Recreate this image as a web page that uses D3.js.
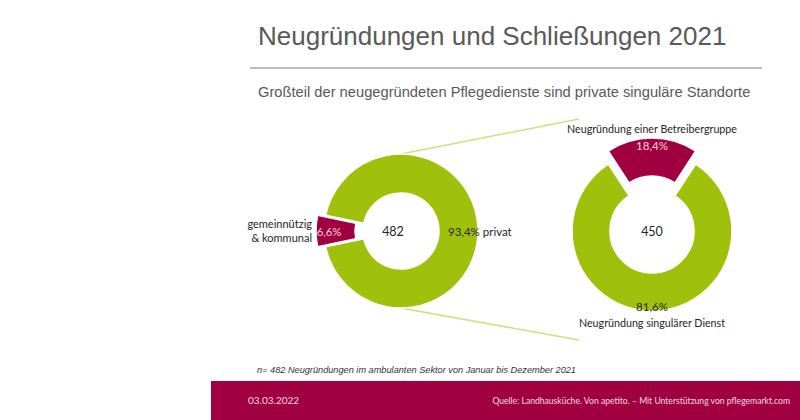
<!DOCTYPE html>
<html lang="de">
<head>
<meta charset="UTF-8">
<title>Neugründungen und Schließungen 2021</title>
<script src="https://d3js.org/d3.v7.min.js"></script>
<style>
  body { margin: 0; background: #fff; }
  .title { font-family: "Liberation Sans", Arial, sans-serif; fill: #595959; }
  .lbl { font-family: Lato, "Open Sans", sans-serif; fill: #262626; }
</style>
</head>
<body>
<svg width="800" height="420"></svg>
<script>
// data
const leftCategories = ["gemeinnützig & kommunal", "privat"];
const leftValues = [6.6, 93.4];
const leftTotal = 482;
const rightCategories = ["Neugründung einer Betreibergruppe", "Neugründung singulärer Dienst"];
const rightValues = [18.4, 81.6];
const rightTotal = 450;
const colors = ["#a00040", "#a0c10c"];

const svg = d3.select("svg");
const fmt = v => d3.format(".1f")(v).replace(".", ",") + "%";

// header
svg.append("text").attr("class", "title")
    .attr("x", 258).attr("y", 45)
    .style("font-size", "26px")
    .text("Neugründungen und Schließungen 2021");
svg.append("line")
    .attr("x1", 250).attr("x2", 762).attr("y1", 68).attr("y2", 68)
    .attr("stroke", "#a6a6a6").attr("stroke-width", 1.5);
svg.append("text").attr("class", "title")
    .attr("x", 258).attr("y", 97)
    .style("font-size", "14.7px")
    .text("Großteil der neugegründeten Pflegedienste sind private singuläre Standorte");

// donut helper: first slice (red) centred at angle `mid`, exploded by `explode`
function donut(cx, cy, rOut, rIn, values, mid, explode) {
    const half = Math.PI * 2 * values[0] / d3.sum(values) / 2;
    const pie = d3.pie().sort(null).value(d => d)
        .startAngle(mid - half).endAngle(mid - half + Math.PI * 2);
    const arc = d3.arc().innerRadius(rIn).outerRadius(rOut);
    const arcs = pie(values);
    const g = svg.append("g").attr("transform", `translate(${cx},${cy})`);
    g.selectAll("path").data(arcs).join("path")
        .attr("d", arc)
        .attr("fill", (d, i) => colors[i])
        .attr("stroke", "#fff").attr("stroke-width", 1.5)
        .attr("transform", (d, i) => {
            if (i !== 0) return null;
            const a = (d.startAngle + d.endAngle) / 2;
            return `translate(${Math.sin(a) * explode},${-Math.cos(a) * explode})`;
        });
    return { g, arcs, arc };
}

const L = { cx: 401, cy: 231, rOut: 77, rIn: 38 };
const R = { cx: 652, cy: 231, rOut: 80, rIn: 42 };

// connector lines
const lineColor = "#cfe07f";
svg.append("line").attr("x1", L.cx).attr("y1", L.cy - L.rOut)
    .attr("x2", R.cx - 73).attr("y2", 119)
    .attr("stroke", lineColor).attr("stroke-width", 1.5);
svg.append("line").attr("x1", L.cx - 6).attr("y1", L.cy + L.rOut - 1)
    .attr("x2", R.cx - 73).attr("y2", 340)
    .attr("stroke", lineColor).attr("stroke-width", 1.5);

const left = donut(L.cx, L.cy, L.rOut, L.rIn, leftValues, -Math.PI / 2, 8);
const right = donut(R.cx, R.cy, R.rOut, R.rIn, rightValues, 0, 13);

// left labels
left.g.append("text").attr("class", "lbl")
    .attr("x", -8).attr("y", 4.5).attr("text-anchor", "middle")
    .style("font-size", "12.5px").text(leftTotal);
left.g.append("text").attr("class", "lbl")
    .attr("x", -72).attr("y", 4.5).attr("text-anchor", "middle")
    .style("font-size", "11.3px").style("fill", "#f6d3df")
    .text(fmt(leftValues[0]));
left.g.append("text").attr("class", "lbl")
    .attr("x", 47).attr("y", 4.5)
    .style("font-size", "11.5px")
    .text(fmt(leftValues[1]) + " " + leftCategories[1]);
const lt = left.g.append("text").attr("class", "lbl")
    .attr("text-anchor", "end").style("font-size", "11px");
lt.append("tspan").attr("x", -89).attr("y", -3).text("gemeinnützig");
lt.append("tspan").attr("x", -89).attr("y", 11).text("& kommunal");

// right labels
right.g.append("text").attr("class", "lbl")
    .attr("x", 0).attr("y", 4.5).attr("text-anchor", "middle")
    .style("font-size", "12.5px").text(rightTotal);
right.g.append("text").attr("class", "lbl")
    .attr("x", 0).attr("y", -81).attr("text-anchor", "middle")
    .style("font-size", "11.5px").style("fill", "#f6d3df")
    .text(fmt(rightValues[0]));
right.g.append("line")
    .attr("x1", 0).attr("x2", 0).attr("y1", -77).attr("y2", -74)
    .attr("stroke", "#333").attr("stroke-width", 0.8);
right.g.append("text").attr("class", "lbl")
    .attr("x", 0).attr("y", -98).attr("text-anchor", "middle")
    .style("font-size", "10.7px").text(rightCategories[0]);
right.g.append("text").attr("class", "lbl")
    .attr("x", 0).attr("y", 80).attr("text-anchor", "middle")
    .style("font-size", "11.5px").text(fmt(rightValues[1]));
right.g.append("text").attr("class", "lbl")
    .attr("x", 0).attr("y", 96).attr("text-anchor", "middle")
    .style("font-size", "10.7px").text(rightCategories[1]);

// footnote
svg.append("text")
    .attr("x", 257).attr("y", 373)
    .style("font-family", "'Liberation Sans', Arial, sans-serif")
    .style("font-style", "italic").style("font-size", "9.2px").style("fill", "#333")
    .text("n= 482 Neugründungen im ambulanten Sektor von Januar bis Dezember 2021");

// footer bar
svg.append("rect").attr("x", 211).attr("y", 381).attr("width", 589).attr("height", 39)
    .attr("fill", "#a00040");
svg.append("text").attr("class", "lbl")
    .attr("x", 248).attr("y", 404)
    .style("font-size", "10px").style("fill", "#f3dbe4")
    .text("03.03.2022");
svg.append("text").attr("class", "lbl")
    .attr("x", 790).attr("y", 404).attr("text-anchor", "end")
    .style("font-size", "8.6px").style("fill", "#f3dbe4")
    .text("Quelle: Landhausküche. Von apetito. – Mit Unterstützung von pflegemarkt.com");
</script>
</body>
</html>
